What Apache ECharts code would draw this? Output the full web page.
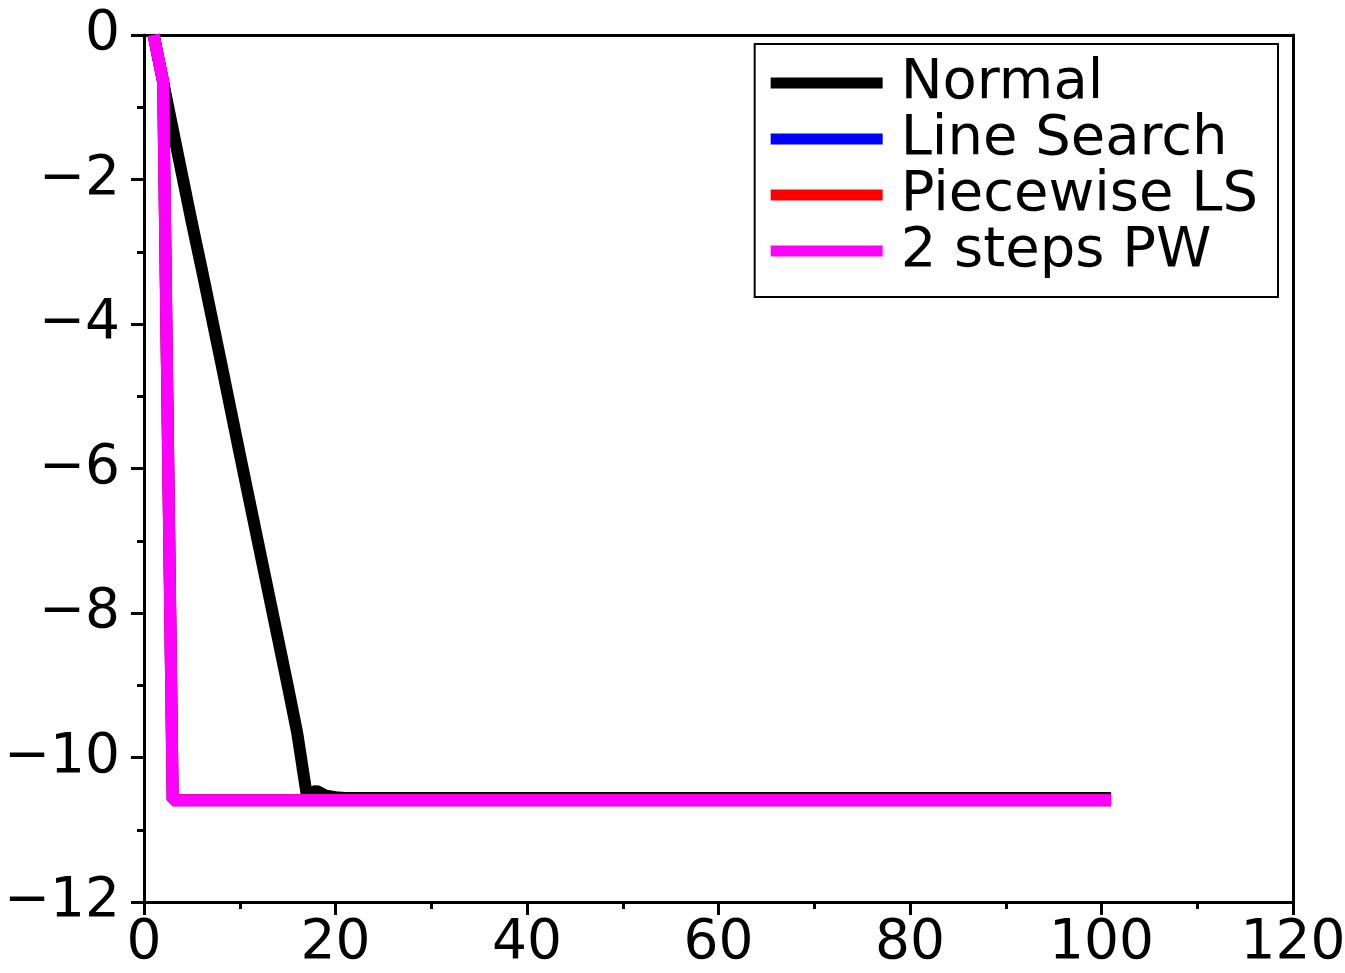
<!DOCTYPE html>
<html>
<head>
<meta charset="utf-8">
<script src="https://cdn.jsdelivr.net/npm/echarts@6/dist/echarts.min.js"></script>
<style>
  html, body { margin: 0; padding: 0; background: #fff; }
  #chart { width: 1345px; height: 973px; }
</style>
</head>
<body>
<div id="chart"></div>
<script>
// iterations vs log residual
const normalIter = [1, 2, 3, 4, 5, 6, 7, 8, 9, 10, 11, 12, 13, 14, 15, 16, 17, 18, 19, 20, 21, 101];
const normalVal = [0, -0.65, -1.3, -1.95, -2.6, -3.22, -3.86, -4.5, -5.15, -5.8, -6.44, -7.08, -7.72, -8.36, -9.0, -9.66, -10.52, -10.46, -10.53, -10.55, -10.56, -10.56];

// the three accelerated variants overlap; only the magenta one is visible
const lsIter = [1, 2, 3, 4, 101];
const lsVal = [0, -0.65, -10.59, -10.59, -10.59];
const pwIter = [1, 2, 3, 4, 101];
const pwVal = [0, -0.65, -10.59, -10.59, -10.59];
const twoIter = [1, 2, 3, 4, 101];
const twoVal = [0, -0.65, -10.59, -10.59, -10.59];

const seriesNames = ["Normal", "Line Search", "Piecewise LS", "2 steps PW"];
const seriesColors = ["#000000", "#0000ff", "#ff0000", "#ff00ff"];

const pairs = (xs, ys) => xs.map((x, i) => [x, ys[i]]);
const allData = [
  pairs(normalIter, normalVal),
  pairs(lsIter, lsVal),
  pairs(pwIter, pwVal),
  pairs(twoIter, twoVal),
];

const chart = echarts.init(document.getElementById("chart"));
const font = "DejaVu Sans";
const minus = (v) => String(v).replace("-", "\u2212");
const frameLine = { show: true, onZero: false, lineStyle: { color: "#000", width: 3 } };

chart.setOption({
  animation: false,
  backgroundColor: "#fff",
  grid: { left: 144, right: 52, top: 35, bottom: 71, outerBoundsMode: "none", containLabel: false },
  legend: {
    right: 67, top: 44,
    orient: "vertical",
    icon: "rect",
    itemWidth: 112, itemHeight: 11,
    itemGap: 0,
    padding: [11, 20, 18, 16],
    borderColor: "#000", borderWidth: 2,
    backgroundColor: "#fff",
    textStyle: { fontFamily: font, fontSize: 56, color: "#000", lineHeight: 56, padding: [0, 0, 0, 13] },
    data: seriesNames,
  },
  xAxis: [
    {
      type: "value", min: 0, max: 120, interval: 20,
      axisLine: frameLine,
      axisTick: { length: 13, lineStyle: { width: 3 } },
      minorTick: { show: true, splitNumber: 2, length: 7, lineStyle: { color: "#000", width: 3 } },
      splitLine: { show: false },
      axisLabel: { fontFamily: font, fontSize: 55, color: "#000", margin: 14 },
    },
    {
      type: "value", position: "top", min: 0, max: 120,
      axisLine: frameLine,
      axisTick: { show: false }, axisLabel: { show: false }, splitLine: { show: false },
    },
  ],
  yAxis: [
    {
      type: "value", min: -12, max: 0, interval: 2,
      axisLine: frameLine,
      axisTick: { length: 13, lineStyle: { width: 3 } },
      minorTick: { show: true, splitNumber: 2, length: 7, lineStyle: { color: "#000", width: 3 } },
      splitLine: { show: false },
      axisLabel: { fontFamily: font, fontSize: 55, color: "#000", margin: 24, formatter: minus },
    },
    {
      type: "value", position: "right", min: -12, max: 0,
      axisLine: frameLine,
      axisTick: { show: false }, axisLabel: { show: false }, splitLine: { show: false },
    },
  ],
  series: seriesNames.map((name, i) => ({
    name,
    type: "line",
    data: allData[i],
    showSymbol: false,
    symbol: "none",
    color: seriesColors[i],
    lineStyle: { width: 12, color: seriesColors[i], cap: "butt" },
    z: 2 + i,
  })),
});
</script>
</body>
</html>
